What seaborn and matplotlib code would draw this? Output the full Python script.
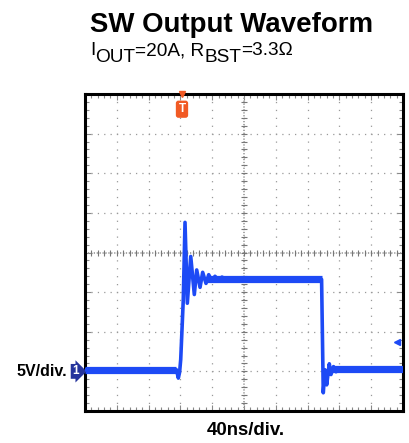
import numpy as np
import pandas as pd
import matplotlib
matplotlib.use("Agg")
import matplotlib.pyplot as plt
import seaborn as sns

# scope settings
T_DIV = 40      # ns/div
V_DIV = 5       # V/div
T_LEFT = -120   # trigger sits 3 div from the left edge
V_BOTTOM = -5   # ground marker 1 div above the bottom

# SW node trace, time in ns, volts
trace_t = [-120, -4.9, -2.6, -1.0, 0.4, 3.6, 5.8, 8.7, 13.0, 17.5, 20.5, 24.7,
           28.0, 32.2, 35.6, 39.7, 43.5, 47.9, 52.3, 57.4, 62, 100, 140, 177.6,
           179.7, 181.9, 184.0, 187.3, 189.4, 192.6, 195.7, 200, 280]
trace_v = [0.2, 0.2, -0.85, -0.1, 1.5, 9.0, 18.8, 8.6, 14.5, 9.7, 12.8, 10.6,
           12.5, 11.1, 12.2, 11.4, 12.0, 11.5, 11.9, 11.6, 11.8, 11.8, 11.7, 11.6,
           -2.7, 0.2, -1.7, 0.96, -0.4, 0.6, -0.05, 0.25, 0.25]

# noise bands on the flat parts
band_start = [-120, 34, 191]
band_end = [-5, 177.6, 280]
band_level = [0.2, 11.7, 0.25]

trigger_t = 2
level_marker_v = 3.65

blue = "#1d4af5"
plt.rcParams['font.family'] = ['Liberation Sans', 'DejaVu Sans']
plt.rcParams['lines.scale_dashes'] = False

fig = plt.figure(figsize=(4.09, 4.43), dpi=100)
ax = fig.add_axes([85 / 409, 1 - 411 / 443, 318 / 409, 317 / 443])

ax.set_xlim(T_LEFT, T_LEFT + 10 * T_DIV)
ax.set_ylim(V_BOTTOM, V_BOTTOM + 8 * V_DIV)
ax.set_xticks(np.arange(T_LEFT, T_LEFT + 10 * T_DIV + 1, T_DIV))
ax.set_yticks(np.arange(V_BOTTOM, V_BOTTOM + 8 * V_DIV + 1, V_DIV))
ax.set_xticks(np.arange(T_LEFT, T_LEFT + 10 * T_DIV + 1, T_DIV / 5), minor=True)
ax.set_yticks(np.arange(V_BOTTOM, V_BOTTOM + 8 * V_DIV + 1, V_DIV / 5), minor=True)
ax.tick_params(which='both', direction='in', top=True, right=True,
               labelbottom=False, labelleft=False, color='#888888', width=0.8)
ax.tick_params(which='major', length=4)
ax.tick_params(which='minor', length=3)

# dotted graticule, one dot per minor division
ax.xaxis.grid(True, which='major', color='#999999', lw=0.9, ls=(0.3, (0.9, 4.8)))
ax.yaxis.grid(True, which='major', color='#999999', lw=0.9, ls=(0.3, (0.9, 3.68)))

# centre cross with its little ticks
t_mid = T_LEFT + 5 * T_DIV
v_mid = V_BOTTOM + 4 * V_DIV
ax.axhline(v_mid, color='#999999', lw=1.2, ls=(0, (0.9, 1.2)))
ax.axvline(t_mid, color='#999999', lw=1.2, ls=(0, (0.9, 1.2)))
ax.plot(np.arange(T_LEFT, T_LEFT + 10 * T_DIV + 1, T_DIV / 5),
        np.full(51, v_mid), ls='none', marker='|', ms=4, color='#777777', mew=0.8)
ax.plot(np.full(41, t_mid), np.arange(V_BOTTOM, V_BOTTOM + 8 * V_DIV + 1, V_DIV / 5),
        ls='none', marker='_', ms=4, color='#777777', mew=0.8)

for s in ax.spines.values():
    s.set_linewidth(2.2)
    s.set_color('black')

# trace
ax.hlines(band_level, band_start, band_end, color=blue, lw=5.2, zorder=3)
sns.lineplot(x=trace_t, y=trace_v, ax=ax, color=blue, lw=2.6, zorder=4)
ax.set_xlabel('')
ax.set_ylabel('')

# trigger marker
ax.plot([trigger_t], [1.0], transform=ax.get_xaxis_transform(), marker='v',
        ms=5, color='#f15a24', clip_on=False, zorder=6)
ax.text(trigger_t, 0.952, 'T', transform=ax.get_xaxis_transform(),
        ha='center', va='center', fontsize=8.5, fontweight='bold', color='white',
        bbox=dict(boxstyle='round,pad=0.22', fc='#f15a24', ec='none'), zorder=6)

# channel 1 ground marker and level arrow
ax.text(-0.03, 0, '1', transform=ax.get_yaxis_transform(), ha='center', va='center',
        fontsize=8.5, fontweight='bold', color='white', clip_on=False,
        bbox=dict(boxstyle='rarrow,pad=0.12', fc='#25349c', ec='none'))
ax.plot([0.982], [level_marker_v], transform=ax.get_yaxis_transform(), marker='<',
        ms=5, color=blue, clip_on=False)

# titles
fig.text(90 / 409, 1 - 32.5 / 443, 'SW Output Waveform', fontsize=19.9,
         fontweight='bold', ha='left', va='baseline')

pieces = [('I', 0), ('OUT', -7), ('=20A, R', 0), ('BST', -7), ('=3.3Ω', 0)]
prev = fig.text(90 / 409, 1 - 55 / 443, pieces[0][0], fontsize=13.7,
                ha='left', va='baseline')
prev_dy = 0
for s, dy in pieces[1:]:
    prev = fig.text(0, 0, s, fontsize=13.7, ha='left', va='baseline')
    fig.canvas.draw()
    ref = fig.texts[-2]
    bb = ref.get_window_extent()
    prev.set_position((bb.x1 / fig.bbox.width,
                       ref.get_position()[1] + (dy - prev_dy) / fig.bbox.height))
    prev_dy = dy

fig.text(67 / 409, 1 - 371 / 443, '5V/div.', fontsize=11.5, fontweight='bold',
         ha='right', va='center')
fig.text(245.5 / 409, 1 - 435 / 443, '40ns/div.', fontsize=13.4,
         fontweight='bold', ha='center', va='baseline')

fig.savefig('out.png', dpi=100)
plt.close(fig)
